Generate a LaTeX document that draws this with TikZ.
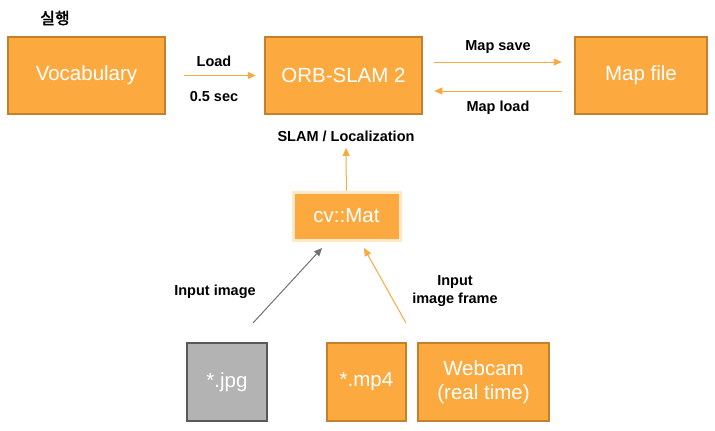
\documentclass[tikz,border=0pt]{standalone}
\usepackage{fontspec}
\setmainfont{Liberation Sans}
\newfontfamily\kofont{Noto Sans CJK KR}[AutoFakeBold=2]
\usepackage{tikz}
\usetikzlibrary{arrows.meta}

\definecolor{boxorange}{RGB}{252,170,64}
\definecolor{boxedge}{RGB}{196,128,42}
\definecolor{arrorange}{RGB}{249,169,64}
\definecolor{paleedge}{RGB}{253,232,200}
\definecolor{boxgray}{RGB}{179,179,179}
\definecolor{grayedge}{RGB}{89,89,89}

\begin{document}
\begin{tikzpicture}[x=1pt,y=-1pt,
                    block/.style={rectangle,draw=boxedge,line width=2.5pt,fill=boxorange,
                                  text=white,inner sep=0pt,align=center,
                                  font=\fontsize{20.5}{24}\selectfont},
                    label/.style={font=\bfseries\fontsize{14.5}{17.5}\selectfont,align=center},
                    flow/.style={draw=arrorange,line width=1pt,-{Triangle[length=8pt,width=7pt]}}]
  \useasboundingbox (0,0) rectangle (715,431);

  \node[block,minimum width=157pt,minimum height=77pt] (vocab) at (86.5,75.5) {Vocabulary};
  \node[block,minimum width=157pt,minimum height=77pt] (orb) at (343.5,75.5) {ORB-SLAM 2};
  \node[block,minimum width=132pt,minimum height=77pt] (mapfile) at (641,75.5) {Map file};
  \node[block,draw=paleedge,line width=3pt,minimum width=107pt,minimum height=48pt] (mat) at (346.5,216) {cv::Mat};
  \node[block,fill=boxgray,draw=grayedge,minimum width=80pt,minimum height=78pt] (jpg) at (227,382) {*.jpg};
  \node[block,minimum width=79pt,minimum height=78pt] (mp4) at (366.5,382) {*.mp4};
  \node[block,minimum width=131pt,minimum height=78pt] (webcam) at (483.5,382) {Webcam\\(real time)};

  \node[label] (run) at (55,18) {\kofont\bfseries\fontsize{16}{19}\selectfont 실행};
  \node[label] (load) at (214,61) {Load};
  \node[label] (sec) at (214,97) {0.5 sec};
  \node[label] (save) at (498,47) {Map save};
  \node[label] (mload) at (498,108) {Map load};
  \node[label] (slam) at (346,136) {SLAM / Localization};
  \node[label] (inimg) at (215,292) {Input image};
  \node[label] (inframe) at (455,291) {Input\\image frame};

  \coordinate (jpgfrom) at (253,323);
  \coordinate (jpgto) at (322,248);
  \coordinate (vidfrom) at (406,323);
  \coordinate (vidto) at (364,248);

  \draw[flow,shorten <=18pt,shorten >=8pt] (vocab) -- (orb);
  \draw[flow,shorten <=11pt,shorten >=12pt] ([yshift=13.5pt]orb.east) -- ([yshift=13.5pt]mapfile.west);
  \draw[flow,shorten <=12pt,shorten >=11pt] ([yshift=-15.5pt]mapfile.west) -- ([yshift=-15.5pt]orb.east);
  \draw[flow,shorten >=3pt] (mat) -- (slam);
  \draw[flow,draw=grayedge!85] (jpgfrom) -- (jpgto);
  \draw[flow] (vidfrom) -- (vidto);
\end{tikzpicture}
\end{document}
